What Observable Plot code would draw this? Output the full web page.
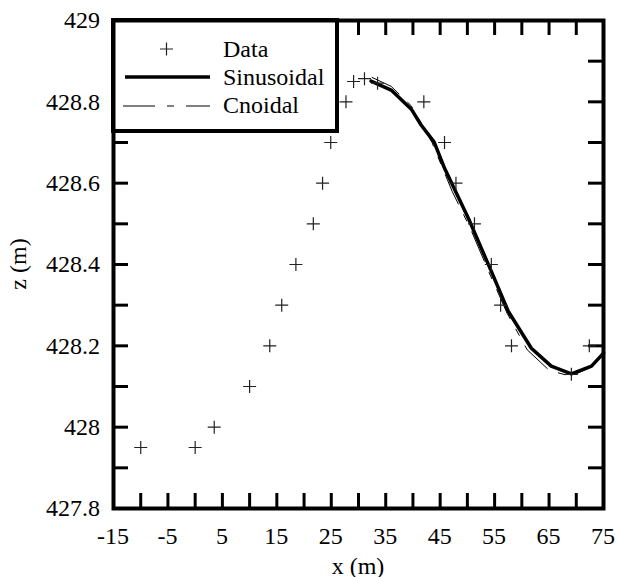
<!DOCTYPE html>
<html><head><meta charset="utf-8">
<script src="https://cdn.jsdelivr.net/npm/d3@7"></script>
<script src="https://cdn.jsdelivr.net/npm/@observablehq/plot@0.6"></script>
<style>
body{margin:0;background:#fff}
</style>
</head><body><div id="chart"></div>
<script>
// Measured data (x in m, z in m)
const dataX = [-10, 0, 3.5, 10, 13.7, 15.9, 18.5, 21.7, 23.4, 24.9, 27.7, 29.1, 31.1, 33.5, 42, 45.8, 47.9, 51.3, 54.4, 56.1, 58.1, 69.1, 72.4];
const dataZ = [427.95, 427.95, 428.0, 428.1, 428.2, 428.3, 428.4, 428.5, 428.6, 428.7, 428.8, 428.85, 428.857, 428.846, 428.8, 428.7, 428.6, 428.5, 428.4, 428.3, 428.2, 428.13, 428.2];
// Sinusoidal fit
const sinX = [32.3, 36.0, 39.7, 41.5, 43.9, 45.7, 47.6, 50.2, 54.4, 57.5, 61.75, 65.4, 69.1, 72.8, 75.0];
const sinZ = [428.851, 428.829, 428.782, 428.743, 428.701, 428.640, 428.586, 428.513, 428.383, 428.285, 428.194, 428.150, 428.131, 428.150, 428.182];
// Cnoidal fit
const cnoX = [32.5, 36.0, 39.7, 43.5, 47.2, 50.5, 54.0, 57.3, 61.0, 65.0, 69.0, 72.8, 75.0];
const cnoZ = [428.86, 428.838, 428.79, 428.70, 428.58, 428.49, 428.38, 428.28, 428.19, 428.14, 428.125, 428.148, 428.18];

const xTickLabels = [-15, -5, 5, 15, 25, 35, 45, 55, 65, 75];
const yTickLabels = [427.8, 428, 428.2, 428.4, 428.6, 428.8, 429];
const xTicks = [-10, -5, 0, 5, 10, 15, 20, 25, 30, 35, 40, 45, 50, 55, 60, 65, 70];
const yTicks = [427.9, 428, 428.1, 428.2, 428.3, 428.4, 428.5, 428.6, 428.7, 428.8, 428.9];
const legendLabels = ["Data", "Sinusoidal", "Cnoidal"];
const xLabel = "x (m)";
const yLabel = "z (m)";

const points = dataX.map((x, i) => ({x, z: dataZ[i]}));
const sinPts = sinX.map((x, i) => ({x, z: sinZ[i]}));
const cnoPts = cnoX.map((x, i) => ({x, z: cnoZ[i]}));

const W = 617, H = 577;
const mL = 113, mR = 14, mT = 20, mB = 69;
const innerW = W - mL - mR, innerH = H - mT - mB;
const tickLen = 15;
const font = "'Liberation Serif', 'Times New Roman', Times, 'DejaVu Serif', serif";

const plusSymbol = {
  draw(ctx, size) {
    const h = Math.sqrt(size / Math.PI);
    ctx.moveTo(-h, 0); ctx.lineTo(h, 0);
    ctx.moveTo(0, -h); ctx.lineTo(0, h);
  }
};

function addText(g, x, y, t, anchor, baseline, rotate) {
  const el = g.append("text").attr("x", x).attr("y", y).text(t)
    .attr("text-anchor", anchor)
    .style("font-family", font).style("font-size", "24px").attr("fill", "black");
  if (baseline) el.attr("dy", baseline);
  if (rotate) el.attr("transform", `rotate(${rotate},${x},${y})`);
  return el;
}

// Tick labels and axis titles, positioned through Plot's x and y scales
function axisLabels(index, scales, values, dims) {
  const g = d3.create("svg:g");
  const bottom = dims.height - dims.marginBottom;
  const left = dims.marginLeft;
  xTickLabels.forEach(v => addText(g, scales.x(v), bottom + 36, String(v), "middle"));
  yTickLabels.forEach(v => addText(g, left - 13, scales.y(v), String(v), "end", "0.35em"));
  const cx = (dims.marginLeft + dims.width - dims.marginRight) / 2;
  const cy = (dims.marginTop + dims.height - dims.marginBottom) / 2;
  addText(g, cx, bottom + 66, xLabel, "middle");
  addText(g, left - 95, cy, yLabel, "middle", "0.35em", -90);
  return g.node();
}

function legendMark(index, scales, values, dims) {
  const g = d3.create("svg:g");
  const x0 = dims.marginLeft, y0 = dims.marginTop;
  g.append("rect").attr("x", x0).attr("y", y0).attr("width", 224).attr("height", 111)
    .attr("fill", "white").attr("stroke", "black").attr("stroke-width", 4);
  g.append("path").attr("d", `M${x0+47},${y0+29}h13M${x0+53.5},${y0+22.5}v13`)
    .attr("stroke", "#222").attr("stroke-width", 1.2).attr("fill", "none");
  g.append("line").attr("x1", x0+12).attr("x2", x0+97).attr("y1", y0+57).attr("y2", y0+57)
    .attr("stroke", "black").attr("stroke-width", 3.5);
  g.append("line").attr("x1", x0+10).attr("x2", x0+97).attr("y1", y0+86).attr("y2", y0+86)
    .attr("stroke", "black").attr("stroke-width", 1).attr("stroke-dasharray", "32,12,7,12");
  const ys = [37, 65, 93];
  legendLabels.forEach((t, i) => addText(g, x0 + 110, y0 + ys[i], t, "start"));
  return g.node();
}

const chart = Plot.plot({
  width: W, height: H,
  marginLeft: mL, marginRight: mR, marginTop: mT, marginBottom: mB,
  style: {background: "white", color: "black"},
  x: {domain: [-15, 75], axis: null},
  y: {domain: [427.8, 429], axis: null},
  marks: [
    axisLabels,
    Plot.tickX(xTicks, {x: d => d, insetTop: innerH - tickLen, strokeWidth: 3}),
    Plot.tickX(xTicks, {x: d => d, insetBottom: innerH - tickLen, strokeWidth: 3}),
    Plot.tickY(yTicks, {y: d => d, insetRight: innerW - tickLen, strokeWidth: 3}),
    Plot.tickY(yTicks, {y: d => d, insetLeft: innerW - tickLen, strokeWidth: 3}),
    Plot.line(cnoPts, {x: "x", y: "z", stroke: "black", strokeWidth: 1, strokeDasharray: "32,12,7,12"}),
    Plot.line(sinPts, {x: "x", y: "z", stroke: "black", strokeWidth: 3.5}),
    Plot.dot(points, {x: "x", y: "z", symbol: plusSymbol, r: 6.5, stroke: "#222", strokeWidth: 1.2, fill: "none"}),
    legendMark,
    Plot.frame({stroke: "black", strokeWidth: 4})
  ]
});
document.getElementById("chart").appendChild(chart);
</script>
</body></html>
